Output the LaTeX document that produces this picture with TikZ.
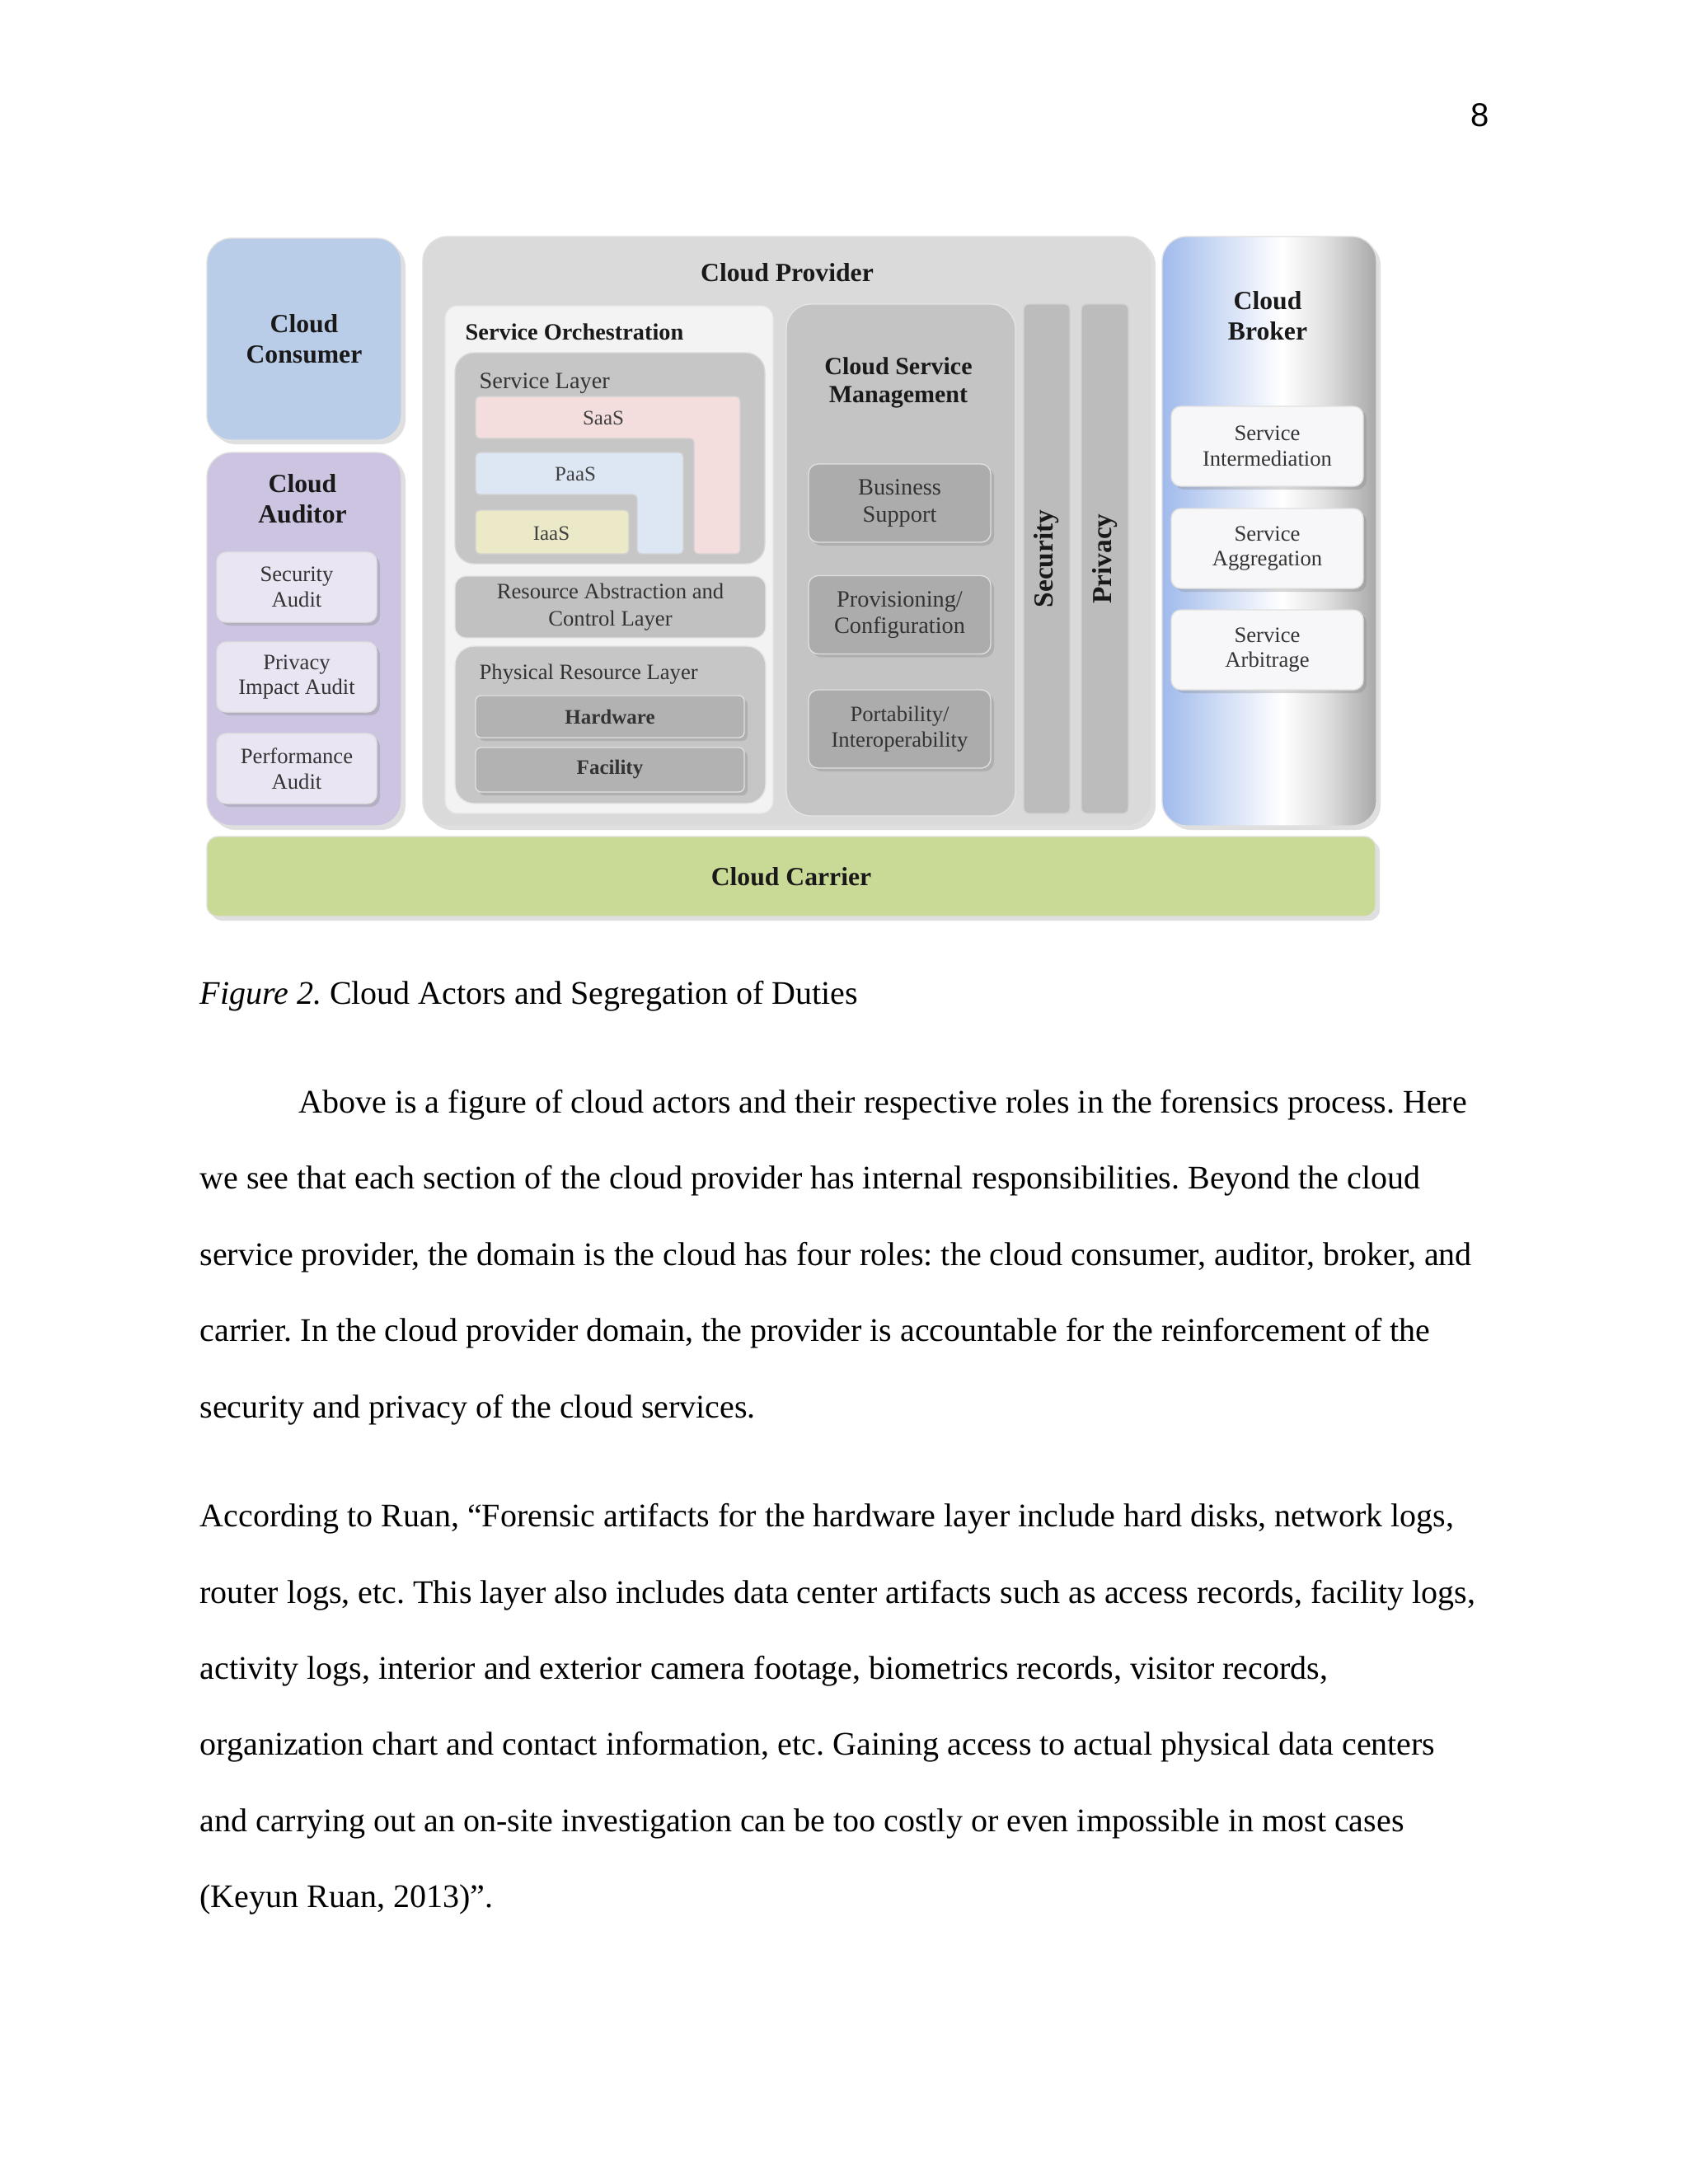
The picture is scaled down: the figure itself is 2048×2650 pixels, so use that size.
\documentclass[tikz,border=0pt]{standalone}
\usepackage{fontspec}
\setmainfont{Liberation Serif}
\newfontfamily\pagenofont{Liberation Sans}
\usepackage{tikz}
\usetikzlibrary{positioning,shadows}
\frenchspacing
\definecolor{consumerBlue}{RGB}{185,205,233}
\definecolor{auditorLilac}{RGB}{204,196,225}
\definecolor{auditTile}{RGB}{234,229,242}
\definecolor{providerGrey}{RGB}{218,218,218}
\definecolor{orchWhite}{RGB}{243,243,243}
\definecolor{layerGrey}{RGB}{198,198,198}
\definecolor{hwGrey}{RGB}{178,178,178}
\definecolor{csmGrey}{RGB}{196,196,196}
\definecolor{csmTile}{RGB}{172,172,172}
\definecolor{barGrey}{RGB}{188,188,188}
\definecolor{saasPink}{RGB}{243,222,221}
\definecolor{paasBlue}{RGB}{221,231,244}
\definecolor{iaasBeige}{RGB}{236,233,200}
\definecolor{brokerBlue}{RGB}{160,186,236}
\definecolor{brokerGrey}{RGB}{168,168,168}
\definecolor{brokerTile}{RGB}{247,247,249}
\definecolor{carrierGreen}{RGB}{201,217,150}
\pgfdeclarehorizontalshading{brokerShade}{100bp}{color(0bp)=(brokerBlue); color(25bp)=(brokerBlue);
  color(40bp)=(brokerBlue!45!white); color(53bp)=(white); color(63bp)=(white!88!black);
  color(75bp)=(brokerGrey); color(100bp)=(brokerGrey)}
\tikzset{sz/.style 2 args={minimum width=#1*0.3pt,minimum height=#2*0.3pt}}

\begin{document}
\begin{tikzpicture}[x=0.3pt,y=-0.3pt,
  actor/.style={rectangle,rounded corners=9pt,inner sep=0pt,draw=black!12,align=center,
                font=\bfseries\fontsize{9.5}{11}\selectfont,text=black!90,
                drop shadow={opacity=0.25,shadow xshift=1.5pt,shadow yshift=-1.5pt}},
  panel/.style={rectangle,rounded corners=7pt,inner sep=0pt,draw=black!10},
  tile/.style={rectangle,rounded corners=3.5pt,inner sep=0pt,align=center,
               font=\fontsize{8}{9.2}\selectfont,text=black!80,draw=black!12,
               drop shadow={opacity=0.3,shadow xshift=1.2pt,shadow yshift=-1.2pt}},
  head/.style={align=center,font=\bfseries\fontsize{9.5}{11}\selectfont,text=black!90},
  sub/.style={anchor=west,inner sep=0pt,font=\fontsize{8.5}{10}\selectfont,text=black!80},
  lshape/.style={rounded corners=1.5pt,draw=black!18},
  tag/.style={font=\fontsize{7.5}{9}\selectfont,text=black!75},
  line/.style={anchor=base west,inner sep=0pt,font=\fontsize{12}{14}\selectfont}
]
  \fill[white] (0,0) rectangle (2048,2650);
  \useasboundingbox (0,0) rectangle (2048,2650);

  \node[anchor=base east,inner sep=0pt,font=\pagenofont\fontsize{12}{14}\selectfont] (pageno) at (1807,153) {8};

  \node[actor,fill=consumerBlue,sz={236}{245}] (consumer) at (369,411.5) {Cloud\\Consumer};
  \node[actor,fill=auditorLilac,sz={236}{453}] (auditor) at (369,775.5) {};
  \node[head] (auditorT) at (367,605) {Cloud\\Auditor};
  \node[tile,fill=auditTile,sz={194}{85}] (secaudit)  at (360,712.5) {Security\\Audit};
  \node[tile,fill=auditTile,sz={194}{85}] (privaudit) at (360,821.5) {Privacy\\Impact Audit};
  \node[tile,fill=auditTile,sz={194}{85}] (perfaudit) at (360,932.5) {Performance\\Audit};

  \node[actor,fill=providerGrey,sz={884}{715}] (provider) at (955,644.5) {};
  \node[head] (providerT) at (955,331) {Cloud Provider};
  \node[panel,fill=orchWhite,rounded corners=4.5pt,sz={398}{616}] (orch) at (739,679) {};
  \node[sub,font=\bfseries\fontsize{8.5}{10}\selectfont,text=black!90] (orchT) at (564,403) {Service Orchestration};
  \node[panel,fill=layerGrey,sz={376}{256},draw=black!15] (svclayer) at (740,556) {};
  \node[sub] (svclayerT) at (581,465) {Service Layer};
  \draw[lshape,fill=saasPink] (577,481) -- (898,481) -- (898,672) -- (842,672) -- (842,532) -- (577,532) -- cycle;
  \draw[lshape,fill=paasBlue] (577,549) -- (829,549) -- (829,672) -- (773,672) -- (773,600) -- (577,600) -- cycle;
  \draw[lshape,fill=iaasBeige] (577,619) rectangle (763,672);
  \node[tag] (saas) at (732,507) {SaaS};
  \node[tag] (paas) at (698,575) {PaaS};
  \node[tag] (iaas) at (669,647) {IaaS};
  \node[panel,fill=layerGrey!108,rounded corners=4pt,align=center,sz={377}{75},
        font=\fontsize{8}{9.8}\selectfont,text=black!80] (rescontrol) at (740.5,736.5) {Resource Abstraction and\\Control Layer};
  \node[panel,fill=layerGrey,sz={377}{191}] (physres) at (740.5,879.5) {};
  \node[sub,font=\fontsize{8}{10}\selectfont] (physresT) at (581,818) {Physical Resource Layer};
  \node[tile,fill=hwGrey,rounded corners=2pt,sz={326}{51},font=\bfseries\fontsize{7.5}{9}\selectfont] (hardware) at (740,869.5) {Hardware};
  \node[tile,fill=hwGrey,rounded corners=2pt,sz={326}{54},font=\bfseries\fontsize{7.5}{9}\selectfont] (facility) at (740,934) {Facility};

  \node[panel,fill=csmGrey,rounded corners=9pt,sz={278}{621}] (csm) at (1093,679.5) {};
  \node[head,font=\bfseries\fontsize{9}{10.2}\selectfont] (csmT) at (1090,464) {Cloud Service\\Management};
  \node[tile,fill=csmTile,sz={221}{95},font=\fontsize{8.5}{9.8}\selectfont] (business) at (1091.5,610.5) {Business\\Support};
  \node[tile,fill=csmTile,sz={221}{95},font=\fontsize{8.5}{9.8}\selectfont] (provisioning) at (1091.5,746) {Provisioning/\\Configuration};
  \node[tile,fill=csmTile,sz={221}{95}] (portability) at (1091.5,884.5) {Portability/\\Interoperability};

  \node[panel,fill=barGrey,rounded corners=2pt,sz={56}{618},draw=black!18] (secbar) at (1270,678) {};
  \node[head,rotate=90,font=\bfseries\fontsize{10}{12}\selectfont] (secT) at (secbar) {Security};
  \node[panel,fill=barGrey,rounded corners=2pt,sz={57}{618},draw=black!18] (privbar) at (1340.5,678) {};
  \node[head,rotate=90,font=\bfseries\fontsize{10}{12}\selectfont] (privT) at (privbar) {Privacy};

  \node[actor,shading=brokerShade,sz={260}{715}] (broker) at (1540,644.5) {};
  \node[head] (brokerT) at (1538,383) {Cloud\\Broker};
  \node[tile,fill=brokerTile,sz={233}{97}] (intermed) at (1537.5,541.5) {Service\\Intermediation};
  \node[tile,fill=brokerTile,sz={233}{97}] (aggreg)   at (1537.5,665.5) {Service\\Aggregation};
  \node[tile,fill=brokerTile,sz={233}{97}] (arbitr)   at (1537.5,788.5) {Service\\Arbitrage};

  \node[actor,fill=carrierGreen,rounded corners=4pt,sz={1418}{97}] (carrier) at (960,1063.5) {Cloud Carrier};

  \node[line] (caption) at (242,1218) {\textit{Figure 2.} Cloud Actors and Segregation of Duties};

  \node[line] (p1a) at (362,1350)  {Above is a figure of cloud actors and their respective roles in the forensics process. Here};
  \node[line] (p1b) at (242,1442.5) {we see that each section of the cloud provider has internal responsibilities. Beyond the cloud};
  \node[line] (p1c) at (242,1535)  {service provider, the domain is the cloud has four roles: the cloud consumer, auditor, broker, and};
  \node[line] (p1d) at (242,1627.5) {carrier. In the cloud provider domain, the provider is accountable for the reinforcement of the};
  \node[line] (p1e) at (242,1720)  {security and privacy of the cloud services.};

  \node[line] (p2a) at (242,1852) {According to Ruan, “Forensic artifacts for the hardware layer include hard disks, network logs,};
  \node[line] (p2b) at (242,1945) {router logs, etc. This layer also includes data center artifacts such as access records, facility logs,};
  \node[line] (p2c) at (242,2037) {activity logs, interior and exterior camera footage, biometrics records, visitor records,};
  \node[line] (p2d) at (242,2129) {organization chart and contact information, etc. Gaining access to actual physical data centers};
  \node[line] (p2e) at (242,2222) {and carrying out an on-site investigation can be too costly or even impossible in most cases};
  \node[line] (p2f) at (242,2314) {(Keyun Ruan, 2013)”.};
\end{tikzpicture}
\end{document}
